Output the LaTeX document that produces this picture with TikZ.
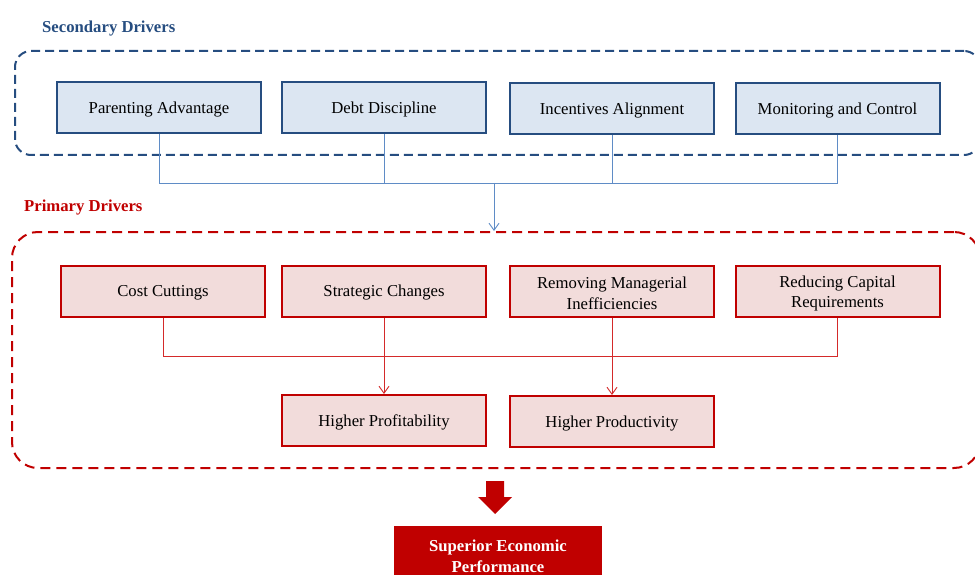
\documentclass[tikz,border=0pt]{standalone}
\usepackage{fontspec}
\setmainfont{Liberation Serif}
\usetikzlibrary{arrows.meta}
\definecolor{bdark}{HTML}{264D80}
\definecolor{bfill}{HTML}{DCE6F2}
\definecolor{bline}{HTML}{5F8CC6}
\definecolor{rdark}{HTML}{C00000}
\definecolor{rfill}{HTML}{F2DCDB}
\definecolor{rline}{HTML}{D42A2A}
\newcommand{\boxfont}{\fontsize{16.7}{20.7}\selectfont}
\tikzset{
  bluebox/.style={draw=bdark, fill=bfill, line width=2pt, minimum width=204pt, minimum height=51pt, inner sep=0pt},
  redbox/.style={draw=rdark, fill=rfill, line width=2pt, minimum width=204pt, minimum height=51pt, inner sep=0pt},
  boxtext/.style={font=\boxfont, align=center, inner sep=0pt, text=black},
  bconn/.style={draw=bline, line width=0.9pt},
  rconn/.style={draw=rline, line width=0.9pt},
  tip/.style={-{Straight Barb[length=7pt,width=10pt,line width=0.9pt]}},
  grouptitle/.style={font=\boxfont\bfseries, inner sep=0pt, anchor=base west},
}
\begin{document}
\begin{tikzpicture}[x=1pt,y=-1pt]
\useasboundingbox (0,0) rectangle (975,575);
\clip (0,0) rectangle (975,575);
% titles
\node[grouptitle, text=bdark] (stitle) at (42,32.5) {Secondary Drivers};
\node[grouptitle, text=rdark] (ptitle) at (24,211.5) {Primary Drivers};
% group frames
\node[draw=bdark, line width=2pt, dash pattern=on 9pt off 5pt, rounded corners=16pt,
      minimum width=965pt, minimum height=104pt, inner sep=0pt] (sbox) at (497.5,103) {};
\node[draw=rdark, line width=2pt, dash pattern=on 10pt off 6pt, rounded corners=26pt,
      minimum width=968pt, minimum height=236pt, inner sep=0pt] (pbox) at (496,350) {};
% secondary drivers
\node[bluebox] (PA) at (159,107.5) {};
\node[bluebox] (DD) at (384,107.5) {};
\node[bluebox] (IA) at (612,108.5) {};
\node[bluebox] (MC) at (837.5,108.5) {};
\node[boxtext] (PAt) at ([yshift=-2pt]PA.center) {Parenting Advantage};
\node[boxtext] (DDt) at ([yshift=-2pt]DD.center) {Debt Discipline};
\node[boxtext] (IAt) at ([yshift=-2pt]IA.center) {Incentives Alignment};
\node[boxtext] (MCt) at ([yshift=-2pt]MC.center) {Monitoring and Control};
% primary drivers
\node[redbox] (CC) at (163,291) {};
\node[redbox] (SC) at (384,291) {};
\node[redbox] (RM) at (612,291) {};
\node[redbox] (RC) at (837.5,291) {};
\node[redbox] (HPf) at (384,420.5) {};
\node[redbox] (HPd) at (612,421.5) {};
\node[boxtext] (CCt) at ([yshift=-2pt]CC.center) {Cost Cuttings};
\node[boxtext] (SCt) at ([yshift=-2pt]SC.center) {Strategic Changes};
\node[boxtext] (RMt) at ([yshift=-2.5pt]RM.center) {Removing Managerial\\Inefficiencies};
\node[boxtext] (RCt) at ([yshift=-2.5pt]RC.center) {Reducing Capital\\Requirements};
\node[boxtext] (HPft) at ([yshift=-2pt]HPf.center) {Higher Profitability};
\node[boxtext] (HPdt) at ([yshift=-2pt]HPd.center) {Higher Productivity};
% blue connectors
\coordinate (hb) at (0,183);
\coordinate (bj) at (494,183);
\draw[bconn] (PA.south) |- (MC.south |- hb) -- (MC.south);
\draw[bconn] (DD.south) -- (DD.south |- hb);
\draw[bconn] (IA.south) -- (IA.south |- hb);
\draw[bconn, tip] (bj) -- (bj |- pbox.north);
% red connectors
\coordinate (hr) at (0,356);
\draw[rconn] (CC.south) |- (RC.south |- hr) -- (RC.south);
\draw[rconn, tip] (SC.south) -- (HPf.north);
\draw[rconn, tip] (RM.south) -- (HPd.north);
% block arrow
\fill[rdark] (486,481) -- (504,481) -- (504,497) -- (512,497) -- (495,514) -- (478,497) -- (486,497) -- cycle;
% result
\node[fill=rdark, minimum width=208pt, minimum height=58pt, inner sep=0pt] (SEP) at (498,555) {};
\node[boxtext, text=white, font=\boxfont\bfseries] (SEPt) at ([yshift=-1pt]SEP.center) {Superior Economic\\Performance};
\end{tikzpicture}
\end{document}
